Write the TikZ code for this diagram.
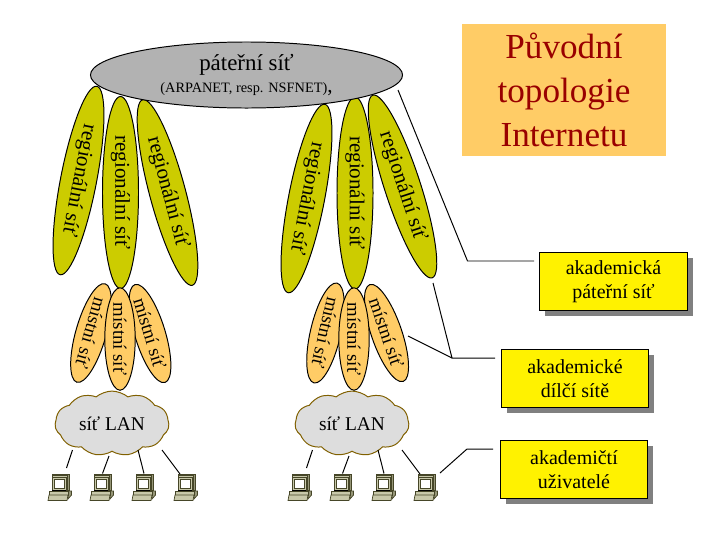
\documentclass[tikz,border=0pt]{standalone}
\usepackage{fontspec}
\setmainfont{Liberation Serif}
\usepackage{tikz}
\usetikzlibrary{shapes.geometric,shapes.symbols}

\definecolor{backbonegray}{RGB}{178,178,178}
\definecolor{regionolive}{RGB}{204,204,0}
\definecolor{localorange}{RGB}{255,204,102}
\definecolor{cloudgray}{RGB}{221,221,221}
\definecolor{cloudbrown}{RGB}{128,96,0}
\definecolor{titlered}{RGB}{153,0,0}
\definecolor{pcframe}{RGB}{200,200,170}
\definecolor{pcdark}{RGB}{150,150,120}
\definecolor{pcline}{RGB}{70,70,40}

\begin{document}
\begin{tikzpicture}[
      x=0.025cm, y=-0.025cm,
      line width=0.7pt,
      backbone/.style={draw, ellipse, fill=backbonegray, minimum width=7.8cm, minimum height=1.65cm, inner sep=0pt, align=center},
      region/.style={draw, ellipse, fill=regionolive, minimum width=4.8cm, minimum height=0.9cm, inner sep=0pt, font=\fontsize{15}{17}\selectfont},
      localnet/.style={draw, ellipse, fill=localorange, minimum width=2.55cm, minimum height=0.76cm, inner sep=0pt, font=\fontsize{13.4}{15}\selectfont},
      lancloud/.style={draw=cloudbrown, cloud, cloud puffs=11, cloud puff arc=80, cloud ignores aspect, fill=cloudgray, minimum width=2.85cm, minimum height=1.62cm, inner sep=0pt, font=\fontsize{13.8}{17}\selectfont},
      legend/.style={draw, fill=yellow, minimum width=3.68cm, minimum height=1.47cm, inner sep=0pt, align=center, font=\fontsize{14.2}{17}\selectfont},
      legendshadow/.style={fill=black!50, minimum width=3.68cm, minimum height=1.47cm, inner sep=0pt},
      pics/computer/.style={code={
        \begin{scope}[draw=pcline, line width=0.5pt]
        \filldraw[fill=pcdark] (4,0) rectangle (21,16);
        \filldraw[fill=pcframe] (4,1.5) rectangle (19.5,16);
        \filldraw[fill=pcframe] (4,3) rectangle (18,16);
        \filldraw[fill=white] (6,5) rectangle (16.5,14.5);
        \fill[black] (4,15.5) rectangle (18,17);
        \filldraw[fill=pcdark] (20,17) -- (23.5,17) -- (23.5,21) -- (20,25) -- cycle;
        \filldraw[fill=pcframe] (1,17) rectangle (20,21);
        \filldraw[fill=pcframe] (1,21) -- (20,21) -- (19,26.5) -- (0,26.5) -- cycle;
        \end{scope}
      }}
    ]
    \useasboundingbox (0,0) rectangle (720,540);

    % regional networks
    \node[region, rotate=-101] (regA) at (78.5,180.5) {regionální síť};
    \node[region, rotate=-75] (regC) at (167.5,192.5) {regionální síť};
    \node[region, rotate=-90] (regB) at (120.5,192.5) {regionální síť};
    \node[region, rotate=-101] (regD) at (306.5,198.5) {regionální síť};
    \node[region, rotate=-72] (regF) at (402.5,186.5) {regionální síť};
    \node[region, rotate=-90] (regE) at (355,193) {regionální síť};

    % backbone
    \node[backbone] (core) at (246.5,75) {\fontsize{16.3}{19}\selectfont páteřní síť\\[3pt]
      \fontsize{10.2}{12}\selectfont (ARPANET, resp. NSFNET){\fontsize{15}{12}\selectfont ,}};

    % local networks
    \node[localnet, rotate=-106] (locA) at (91,333) {místní síť};
    \node[localnet, rotate=-73] (locC) at (150,333.5) {místní síť};
    \node[localnet, rotate=-90] (locB) at (120,339) {místní síť};
    \node[localnet, rotate=-103] (locD) at (325.5,333) {místní síť};
    \node[localnet, rotate=-71] (locF) at (386.5,333) {místní síť};
    \node[localnet, rotate=-90] (locE) at (354,339) {místní síť};

    % LAN clouds
    \node[lancloud] (lanL) at (112,423.5) {síť LAN};
    \node[lancloud] (lanR) at (352,423.5) {síť LAN};

    % computers
    \pic (pcA) at (48,474) {computer};
    \pic (pcB) at (90,474) {computer};
    \pic (pcC) at (132,474) {computer};
    \pic (pcD) at (174,474) {computer};
    \pic (pcE) at (288,474) {computer};
    \pic (pcF) at (330,474) {computer};
    \pic (pcG) at (372,474) {computer};
    \pic (pcH) at (414,474) {computer};

    \coordinate (lanA) at (72.5,450);
    \coordinate (lanB) at (109,456);
    \coordinate (lanC) at (138,450);
    \coordinate (lanD) at (162,450);
    \coordinate (lanE) at (312.5,450);
    \coordinate (lanF) at (349,456);
    \coordinate (lanG) at (378,450);
    \coordinate (lanH) at (402,450);
    \coordinate (endA) at (66.5,468);
    \coordinate (endB) at (102.5,473.5);
    \coordinate (endC) at (144,473.5);
    \coordinate (endD) at (180,474);
    \coordinate (endE) at (306.5,468);
    \coordinate (endF) at (342.5,473.5);
    \coordinate (endG) at (384,473.5);
    \coordinate (endH) at (420,474);
    \draw (lanA) -- (endA);
    \draw (lanB) -- (endB);
    \draw (lanC) -- (endC);
    \draw (lanD) -- (endD);
    \draw (lanE) -- (endE);
    \draw (lanF) -- (endF);
    \draw (lanG) -- (endG);
    \draw (lanH) -- (endH);

    % title
    \node[fill=localorange, minimum width=5.1cm, minimum height=3.3cm, inner sep=0pt, align=center, text=titlered, font=\fontsize{25}{31}\selectfont] (title) at (564,90) {Původní\\topologie\\Internetu};

    % legend boxes
    \node[legendshadow] (shadeA) at (619,287) {};
    \node[legendshadow] (shadeB) at (580.5,384) {};
    \node[legendshadow] (shadeC) at (579.5,475) {};
    \node[legend] (boxA) at (613.5,281.5) {akademická\\páteřní síť};
    \node[legend] (boxB) at (575,378.5) {akademické\\dílčí sítě};
    \node[legend] (boxC) at (574,469.5) {akademičtí\\uživatelé};

    % callout lines
    \coordinate (tipA) at (534,261);
    \coordinate (bendA) at (467.5,261);
    \coordinate (endCore) at (398,90);
    \draw (tipA) -- (bendA) -- (endCore);
    \coordinate (tipB) at (495,358);
    \coordinate (bendB) at (452,358);
    \coordinate (endReg) at (433,283);
    \coordinate (endLoc) at (408,336);
    \draw (tipB) -- (bendB) -- (endReg);
    \draw (bendB) -- (endLoc);
    \coordinate (tipC) at (493,449);
    \coordinate (bendC) at (467,449);
    \coordinate (endPc) at (440,473);
    \draw (tipC) -- (bendC) -- (endPc);
  \end{tikzpicture}
\end{document}
